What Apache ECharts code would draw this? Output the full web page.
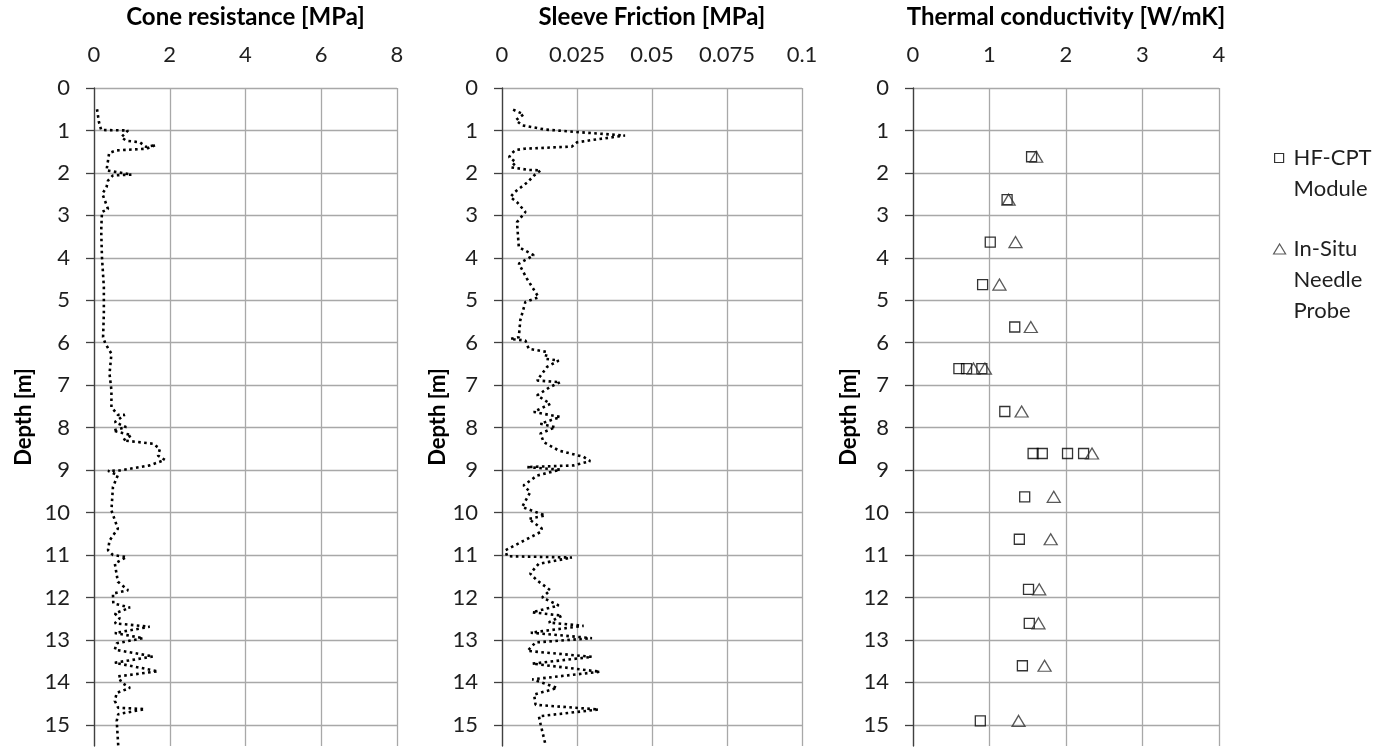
<!DOCTYPE html>
<html>
<head>
<meta charset="utf-8">
<script src="https://cdn.jsdelivr.net/npm/echarts@6/dist/echarts.min.js"></script>
<style>html,body{margin:0;padding:0;background:#fff;}#c{width:1394px;height:749px;}</style>
</head>
<body>
<div id="c"></div>
<script>
// ---- data ----
const panelTitles = ['Cone resistance [MPa]', 'Sleeve Friction [MPa]', 'Thermal conductivity [W/mK]'];
const yAxisName = 'Depth [m]';
const depthTicks = [0, 15.5, 1];            // min, max, interval
const coneTicks = [0, 8, 2];
const sleeveTicks = [0, 0.1, 0.025];
const thermalTicks = [0, 4, 1];

const coneDepth = [0.50,0.80,0.99,1.00,1.16,1.24,1.28,1.39,1.34,1.43,1.47,1.53,1.71,1.94,2.04,2.06,2.18,2.34,2.49,2.85,2.92,3.36,3.98,4.69,5.32,5.87,6.02,6.26,6.73,7.12,7.52,7.70,7.70,7.87,7.99,8.07,8.18,8.30,8.38,8.50,8.66,8.76,8.89,9.01,9.02,9.12,9.40,9.95,10.38,10.66,10.89,11.00,11.05,11.20,11.63,11.83,11.91,12.14,12.24,12.38,12.49,12.61,12.69,12.84,12.96,13.08,13.23,13.39,13.54,13.74,13.86,14.01,14.13,14.25,14.44,14.60,14.63,14.75,14.91,15.49];
const coneValue = [0.08,0.13,0.19,0.90,0.72,0.85,1.21,1.38,1.63,1.38,0.59,0.40,0.37,0.33,0.99,0.50,0.37,0.33,0.22,0.37,0.21,0.19,0.21,0.26,0.26,0.24,0.30,0.46,0.41,0.46,0.46,0.63,0.81,0.55,0.85,0.50,0.99,0.77,1.56,1.74,1.69,1.87,1.47,0.68,0.37,0.63,0.50,0.46,0.63,0.41,0.37,0.50,0.86,0.55,0.63,0.90,0.50,0.51,0.95,0.55,0.68,0.55,1.47,0.55,1.30,0.60,0.55,1.56,0.55,1.69,0.64,0.73,0.95,0.60,0.55,0.64,1.34,0.64,0.60,0.64];

const sleeveDepth = [0.51,0.62,0.76,0.88,0.98,1.04,1.12,1.22,1.28,1.38,1.43,1.46,1.55,1.63,1.75,1.87,1.93,1.94,2.06,2.22,2.46,2.57,2.69,2.92,3.16,3.75,3.94,4.14,4.49,4.93,5.04,5.47,5.87,5.91,5.95,6.14,6.22,6.38,6.42,6.57,6.89,6.93,7.04,7.24,7.44,7.63,7.75,7.91,7.99,8.14,8.34,8.54,8.69,8.79,8.89,8.93,8.99,9.13,9.36,9.52,9.87,10.07,10.15,10.38,10.46,10.89,11.03,11.06,11.21,11.44,11.60,11.83,12.00,12.19,12.35,12.43,12.59,12.67,12.83,12.96,13.06,13.26,13.40,13.56,13.75,13.93,14.13,14.29,14.53,14.64,14.80,15.00,15.47];
const sleeveValue = [0.0037,0.0072,0.0046,0.0068,0.0145,0.0256,0.0410,0.0305,0.0250,0.0233,0.0075,0.0046,0.0030,0.0024,0.0046,0.0030,0.0090,0.0129,0.0107,0.0085,0.0041,0.0028,0.0050,0.0078,0.0050,0.0056,0.0106,0.0056,0.0083,0.0122,0.0078,0.0061,0.0056,0.0028,0.0078,0.0089,0.0150,0.0144,0.0189,0.0150,0.0117,0.0194,0.0161,0.0117,0.0161,0.0106,0.0194,0.0128,0.0178,0.0128,0.0139,0.0189,0.0272,0.0294,0.0239,0.0083,0.0194,0.0117,0.0072,0.0094,0.0067,0.0144,0.0089,0.0133,0.0128,0.0011,0.0017,0.0233,0.0122,0.0094,0.0117,0.0161,0.0134,0.0189,0.0101,0.0200,0.0156,0.0272,0.0096,0.0300,0.0112,0.0085,0.0300,0.0101,0.0327,0.0101,0.0184,0.0107,0.0112,0.0322,0.0123,0.0129,0.0145];

const hfName = 'HF-CPT Module';
const hfDepth = [1.62,2.63,3.63,4.63,5.63,6.61,6.61,6.61,7.62,8.61,8.61,8.61,8.61,9.63,10.63,11.81,12.61,13.61,14.91];
const hfValue = [1.55,1.23,1.01,0.91,1.33,0.60,0.70,0.90,1.20,1.57,1.69,2.02,2.23,1.46,1.39,1.51,1.52,1.43,0.88];
const needleName = 'In-Situ Needle Probe';
const needleDepth = [1.62,2.63,3.63,4.63,5.63,6.61,6.61,7.62,8.61,9.63,10.63,11.81,12.61,13.61,14.91];
const needleValue = [1.61,1.25,1.34,1.13,1.54,0.79,0.94,1.42,2.34,1.84,1.80,1.65,1.64,1.72,1.38];

// ---- chart ----
const FONT = 'Lato';
const TXT = '#1f1f1f';
const GRIDC = '#a8a8a8';
const grids = [
  {left: 94, top: 88, width: 303, height: 658},
  {left: 502, top: 88, width: 300, height: 658},
  {left: 913, top: 88, width: 306, height: 658}
];
const xTicks = [coneTicks, sleeveTicks, thermalTicks];
const nameGaps = [59, 52, 52];

const pairs = (ds, vs) => ds.map((d, i) => [vs[i], d]);

const option = {
  animation: false,
  backgroundColor: '#fff',
  textStyle: {fontFamily: FONT},
  title: grids.map((g, i) => ({
    text: panelTitles[i],
    left: g.left + g.width / 2,
    top: 5,
    padding: 0,
    textAlign: 'center',
    textStyle: {fontFamily: FONT, fontSize: 24, fontWeight: 'bold', color: '#000'}
  })),
  grid: grids,
  xAxis: grids.map((g, i) => ({
    type: 'value', gridIndex: i, position: 'top',
    min: xTicks[i][0], max: xTicks[i][1], interval: xTicks[i][2],
    axisLine: {show: false}, axisTick: {show: false},
    axisLabel: {fontFamily: FONT, fontSize: 22, color: TXT, margin: 22},
    splitLine: {show: true, lineStyle: {color: GRIDC, width: 1.3}}
  })),
  yAxis: grids.map((g, i) => ({
    type: 'value', gridIndex: i, inverse: true,
    min: depthTicks[0], max: depthTicks[1], interval: depthTicks[2],
    name: yAxisName, nameLocation: 'middle', nameGap: nameGaps[i], nameRotate: 90,
    nameTextStyle: {fontFamily: FONT, fontSize: 22, fontWeight: 'bold', color: '#000'},
    axisLine: {show: true, onZero: false, lineStyle: {color: '#404040', width: 1.3}},
    axisTick: {show: true, length: 8, lineStyle: {color: '#404040', width: 1.3}},
    axisLabel: {fontFamily: FONT, fontSize: 22, color: TXT, margin: 24, showMaxLabel: false},
    splitLine: {show: true, showMaxLine: false, lineStyle: {color: GRIDC, width: 1.3}}
  })),
  legend: [
    {
      data: [{name: hfName, icon: 'rect'}],
      left: 1274, top: 111.5, padding: 0, orient: 'vertical', selectedMode: false,
      itemWidth: 9, itemHeight: 9,
      itemStyle: {color: 'rgba(0,0,0,0)', borderColor: '#000', borderWidth: 1.2},
      formatter: () => '\nHF-CPT\nModule',
      textStyle: {fontFamily: FONT, fontSize: 22, color: TXT, lineHeight: 31, padding: [0, 0, 0, 5]}
    },
    {
      data: [{name: needleName, icon: 'triangle'}],
      left: 1273, top: 171.5, padding: 0, orient: 'vertical', selectedMode: false,
      itemWidth: 12, itemHeight: 10,
      itemStyle: {color: 'rgba(0,0,0,0)', borderColor: '#303030', borderWidth: 1.2},
      formatter: () => '\n\nIn-Situ\nNeedle\nProbe',
      textStyle: {fontFamily: FONT, fontSize: 22, color: TXT, lineHeight: 31, padding: [0, 0, 0, 3]}
    }
  ],
  series: [
    {
      type: 'line', name: 'Cone resistance', xAxisIndex: 0, yAxisIndex: 0,
      data: pairs(coneDepth, coneValue), showSymbol: false, symbol: 'none',
      lineStyle: {color: '#000', width: 2.6, type: [2.6, 3.4]}
    },
    {
      type: 'line', name: 'Sleeve friction', xAxisIndex: 1, yAxisIndex: 1,
      data: pairs(sleeveDepth, sleeveValue), showSymbol: false, symbol: 'none',
      lineStyle: {color: '#000', width: 2.6, type: [2.6, 3.4]}
    },
    {
      type: 'scatter', name: hfName, xAxisIndex: 2, yAxisIndex: 2,
      data: pairs(hfDepth, hfValue), symbol: 'rect', symbolSize: 10,
      itemStyle: {color: 'rgba(0,0,0,0)', borderColor: '#000', borderWidth: 1.3}
    },
    {
      type: 'scatter', name: needleName, xAxisIndex: 2, yAxisIndex: 2,
      data: pairs(needleDepth, needleValue), symbol: 'triangle', symbolSize: [13, 11],
      itemStyle: {color: 'rgba(0,0,0,0)', borderColor: '#303030', borderWidth: 1.3}
    }
  ]
};
const chart = echarts.init(document.getElementById('c'), null, {renderer: 'canvas'});
chart.setOption(option);
</script>
</body>
</html>
